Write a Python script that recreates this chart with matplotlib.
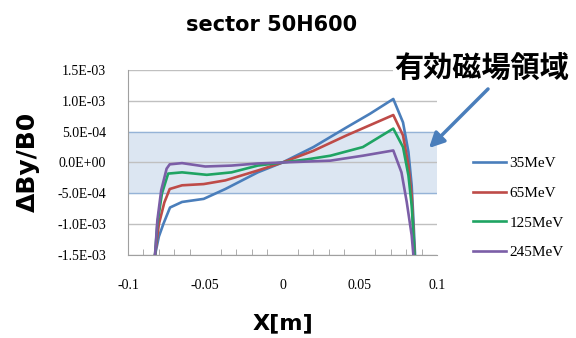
import matplotlib.pyplot as plt
from matplotlib.ticker import MultipleLocator

# data
x35 = [-0.0825, -0.080, -0.077, -0.0728, -0.065, -0.051, -0.037, -0.016, 0, 0.020, 0.0415, 0.0566, 0.0717, 0.078, 0.0815, 0.0836, 0.0847, 0.0858]
y35 = [-1.5e-3, -1.2e-3, -9.9e-4, -7.3e-4, -6.4e-4, -5.9e-4, -4.3e-4, -1.6e-4, 0, 2.5e-4, 5.7e-4, 7.9e-4, 1.03e-3, 6.5e-4, 1.7e-4, -3.7e-4, -9.1e-4, -1.5e-3]

x65 = [-0.0825, -0.080, -0.0765, -0.073, -0.065, -0.051, -0.037, -0.016, 0, 0.020, 0.0415, 0.0717, 0.078, 0.0815, 0.0836, 0.0855]
y65 = [-1.5e-3, -1.0e-3, -6.5e-4, -4.3e-4, -3.7e-4, -3.5e-4, -2.9e-4, -1.3e-4, 0, 1.9e-4, 4.4e-4, 7.7e-4, 4.4e-4, -5e-5, -5.4e-4, -1.5e-3]

x125 = [-0.0825, -0.081, -0.078, -0.074, -0.065, -0.049, -0.033, -0.016, 0, 0.0157, 0.031, 0.052, 0.0717, 0.078, 0.0815, 0.0836, 0.0855]
y125 = [-1.5e-3, -1.0e-3, -5e-4, -1.8e-4, -1.6e-4, -2.0e-4, -1.6e-4, -5e-5, 0, 5e-5, 1.1e-4, 2.5e-4, 5.5e-4, 2.5e-4, -2.1e-4, -7e-4, -1.5e-3]

x245 = [-0.0825, -0.081, -0.0785, -0.075, -0.073, -0.065, -0.050, -0.033, -0.016, 0, 0.031, 0.052, 0.0717, 0.077, 0.0804, 0.0836, 0.0847]
y245 = [-1.5e-3, -9.4e-4, -4.5e-4, -1e-4, -3e-5, -1e-5, -6.5e-5, -5e-5, -1.6e-5, 0, 3e-5, 1.1e-4, 1.95e-4, -1.6e-4, -6.4e-4, -1.18e-3, -1.5e-3]

series = [("35MeV", x35, y35, "#4a7ebb"),
          ("65MeV", x65, y65, "#be4b48"),
          ("125MeV", x125, y125, "#1fa463"),
          ("245MeV", x245, y245, "#7b5ea7")]

yticks = [-1.5e-3, -1.0e-3, -5e-4, 0, 5e-4, 1.0e-3, 1.5e-3]
ytick_labels = ["-1.5E-03", "-1.0E-03", "-5.0E-04", "0.0E+00", "5.0E-04", "1.0E-03", "1.5E-03"]
xticks = [-0.1, -0.05, 0, 0.05, 0.1]
xtick_labels = ["-0.1", "-0.05", "0", "0.05", "0.1"]

fig = plt.figure(figsize=(5.76, 3.38), dpi=100)
ax = fig.add_axes([0.2222, 0.2456, 0.5365, 0.5473])

# effective field region
ax.axhspan(-5e-4, 5e-4, color="#dce6f2", zorder=0)
for yv in yticks:
    c = "#95b3d7" if abs(yv) == 5e-4 else "#c0c0c0"
    ax.axhline(yv, color=c, lw=1, zorder=1)

for name, xs, ys, col in series:
    ax.plot(xs, ys, color=col, lw=1.9, label=name, zorder=3)

ax.set_xlim(-0.1, 0.1)
ax.set_ylim(-1.5e-3, 1.5e-3)
ax.set_yticks(yticks)
ax.set_yticklabels(ytick_labels, family="Liberation Serif", fontsize=10)
ax.set_xticks(xticks)
ax.set_xticklabels(xtick_labels, family="Liberation Serif", fontsize=10)
ax.xaxis.set_minor_locator(MultipleLocator(0.01))
ax.tick_params(axis="x", which="major", length=0, pad=17)
ax.tick_params(axis="x", which="minor", direction="in", length=4, color="#a0a0a0")
ax.tick_params(axis="y", length=0, pad=16)
for s in ["top", "right"]:
    ax.spines[s].set_visible(False)
for s in ["left", "bottom"]:
    ax.spines[s].set_color("#a0a0a0")

fig.text(0.471, 0.926, "sector 50H600", ha="center", va="center",
         fontsize=15, fontweight="bold")
fig.text(0.049, 0.52, "ΔBy/B0", rotation=90, ha="center", va="center",
         fontsize=18, fontweight="bold")
fig.text(0.492, 0.044, "X[m]", ha="center", va="center",
         fontsize=16, fontweight="bold")

fig.text(0.837, 0.799, "有効磁場領域", ha="center", va="center", fontsize=21,
         family=["Noto Sans CJK JP", "DejaVu Sans"], fontweight="bold",
         bbox=dict(facecolor="white", edgecolor="none", pad=1), zorder=5)
ax.annotate("", xy=(427 / 576, 1 - 150 / 338), xycoords="figure fraction",
            xytext=(490 / 576, 1 - 87 / 338), textcoords="figure fraction",
            arrowprops=dict(arrowstyle="-|>,head_length=0.9,head_width=0.45",
                            color="#4a7ebb", lw=2.5))

fig.legend(loc="center left", bbox_to_anchor=(0.797, 0.385), frameon=False,
           handlelength=2.2, handletextpad=0.2, labelspacing=1.05,
           prop={"family": "Liberation Serif", "size": 11})

plt.savefig("out.png", dpi=100)
